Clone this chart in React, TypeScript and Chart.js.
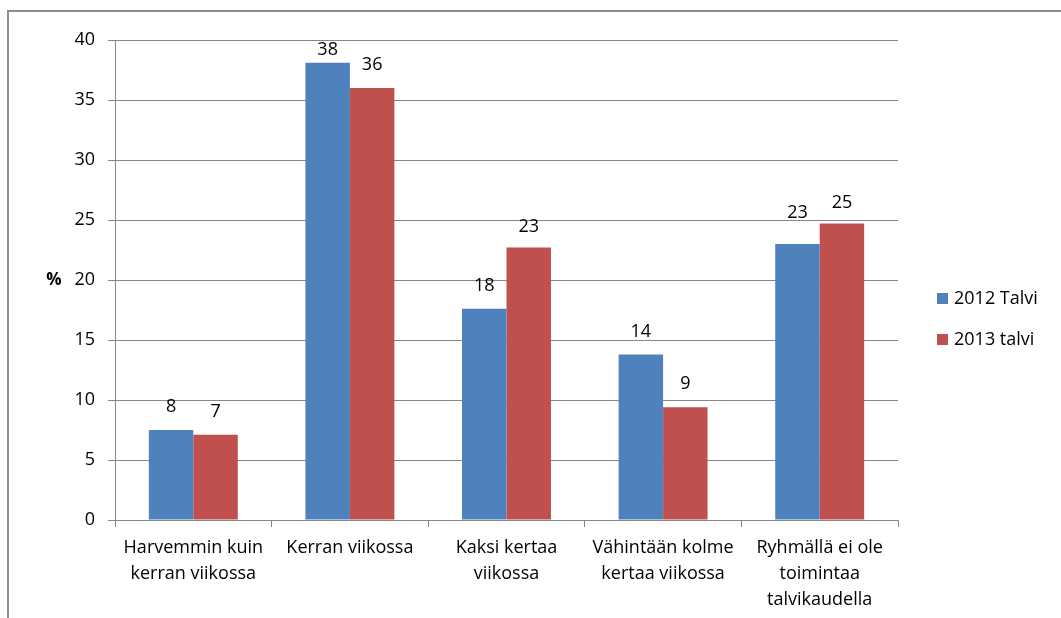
import React, { useEffect, useRef } from "react";
import { Chart, registerables } from "chart.js";

Chart.register(...registerables);

const categories: string[][] = [
  ["Harvemmin kuin", "kerran viikossa"],
  ["Kerran viikossa"],
  ["Kaksi kertaa", "viikossa"],
  ["Vähintään kolme", "kertaa viikossa"],
  ["Ryhmällä ei ole", "toimintaa", "talvikaudella"],
];
const series2012 = [7.5, 38.1, 17.6, 13.8, 23.0];
const series2013 = [7.1, 36.0, 22.7, 9.4, 24.7];
const seriesNames = ["2012 Talvi", "2013 talvi"];
const seriesColors = ["#4F81BD", "#C0504D"];
const yMin = 0;
const yMax = 40;
const yStep = 5;
const yTitle = "%";
// per-bar vertical nudges of the value labels (px), as placed in the source
const labelNudge2012 = [0, 10, 0, 0, -8];
const labelNudge2013 = [0, 0, 2, 0, 2];

const FONT = "'Open Sans', 'Noto Sans', sans-serif";
const FS = 18;
const GRID = "#878787";

const extrasPlugin = {
  id: "extras",
  afterDatasetsDraw(chart: any) {
    const ctx = chart.ctx;
    const area = chart.chartArea;
    ctx.save();
    ctx.fillStyle = "#000";
    ctx.font = `${FS}px ${FONT}`;
    ctx.textAlign = "center";
    ctx.textBaseline = "middle";
    const nudges = [labelNudge2012, labelNudge2013];
    chart.data.datasets.forEach((ds: any, di: number) => {
      const meta = chart.getDatasetMeta(di);
      meta.data.forEach((bar: any, i: number) => {
        const v = ds.data[i] as number;
        ctx.fillText(String(Math.round(v)), bar.x, bar.y - 23 + nudges[di][i]);
      });
    });
    // y-axis title
    ctx.font = `bold 17px ${FONT}`;
    ctx.fillText(yTitle, area.left - 61, (area.top + area.bottom) / 2);
    // legend
    ctx.font = `${FS}px ${FONT}`;
    ctx.textAlign = "left";
    const lx = area.right + 39;
    const ly0 = (area.top + area.bottom) / 2 + 19;
    chart.data.datasets.forEach((ds: any, di: number) => {
      const cy = ly0 + di * 41;
      ctx.fillStyle = ds.backgroundColor;
      ctx.fillRect(lx, cy - 6, 11, 11);
      ctx.fillStyle = "#000";
      ctx.fillText(ds.label, lx + 17, cy);
    });
    ctx.restore();
  },
};

export default function App() {
  const ref = useRef<HTMLCanvasElement | null>(null);
  useEffect(() => {
    if (!ref.current) return;
    const chart = new Chart(ref.current, {
      type: "bar",
      data: {
        labels: categories,
        datasets: [
          { label: seriesNames[0], data: series2012, backgroundColor: seriesColors[0], borderWidth: 0 },
          { label: seriesNames[1], data: series2013, backgroundColor: seriesColors[1], borderWidth: 0 },
        ],
      },
      options: {
        responsive: false,
        animation: false,
        devicePixelRatio: 1,
        layout: { padding: { top: 40, right: 163, left: 0, bottom: 0 } },
        plugins: {
          legend: { display: false },
          tooltip: { enabled: false },
        },
        datasets: {
          bar: { categoryPercentage: 0.568, barPercentage: 1 },
        },
        scales: {
          x: {
            grid: { offset: true, drawOnChartArea: false, drawTicks: true, tickLength: 7, color: GRID },
            border: { display: true, color: GRID },
            ticks: {
              color: "#000",
              padding: 8,
              maxRotation: 0,
              autoSkip: false,
              font: { family: FONT, size: FS, lineHeight: "26px" },
            },
            afterFit(scale: any) {
              scale.height = 98;
            },
          },
          y: {
            min: yMin,
            max: yMax,
            ticks: {
              stepSize: yStep,
              color: "#000",
              padding: 13,
              font: { family: FONT, size: FS },
            },
            grid: { color: GRID, drawTicks: true, tickLength: 7 },
            border: { display: true, color: GRID },
            afterFit(scale: any) {
              scale.width = 115;
            },
          },
        },
      },
      plugins: [extrasPlugin],
    });
    return () => chart.destroy();
  }, []);

  return (
    <div style={{ position: "absolute", left: 0, top: 0, width: 1061, height: 618, overflow: "hidden", background: "#fff" }}>
      <div
        style={{
          position: "absolute",
          left: 7,
          top: 10,
          width: 2000,
          height: 2000,
          border: "2px solid #8e8e8e",
        }}
      />
      <canvas ref={ref} width={1061} height={618} style={{ position: "absolute", left: 0, top: 0, width: 1061, height: 618 }} />
    </div>
  );
}
